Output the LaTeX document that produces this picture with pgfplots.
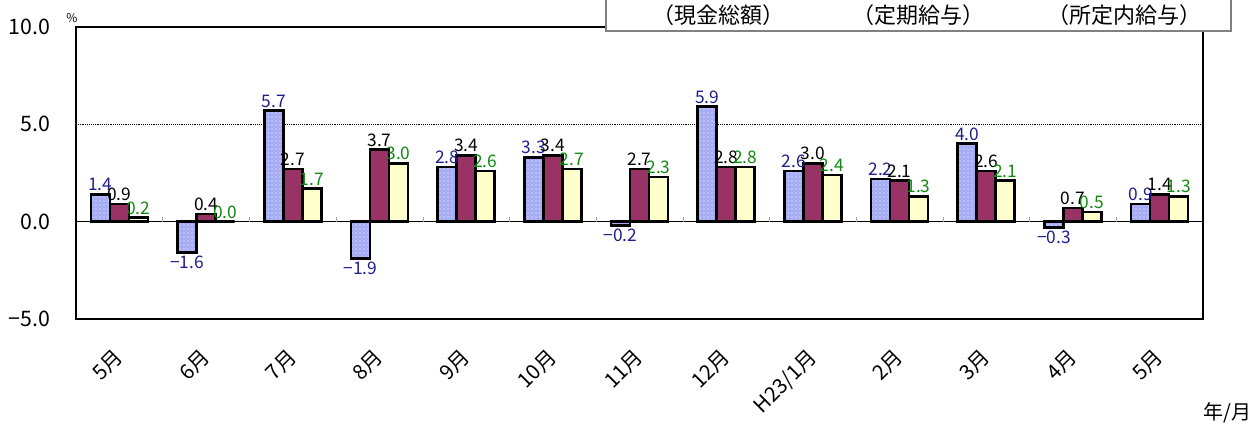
\documentclass[border=0pt]{standalone}
\usepackage{fontspec}
\setmainfont{Noto Sans CJK JP}
\usepackage{pgfplots}
\pgfplotsset{compat=1.18}
\usepackage{pgfplotstable}
\usetikzlibrary{patterns}
\definecolor{barblue}{HTML}{A6ADF5}
\definecolor{barpurple}{HTML}{993366}
\definecolor{baryellow}{HTML}{FFFFCC}
\definecolor{lblblue}{HTML}{1F1F8C}
\definecolor{lblgreen}{HTML}{118811}

\pgfplotstableread{
x    a    la    b   lb   c   lc
0.5  1.4  1.4   0.9 0.9  0.2 0.2
1.5  -1.6 −1.6  0.4 0.4  0.0 0.0
2.5  5.7  5.7   2.7 2.7  1.7 1.7
3.5  -1.9 −1.9  3.7 3.7  3.0 3.0
4.5  2.8  2.8   3.4 3.4  2.6 2.6
5.5  3.3  3.3   3.4 3.4  2.7 2.7
6.5  -0.2 −0.2  2.7 2.7  2.3 2.3
7.5  5.9  5.9   2.8 2.8  2.8 2.8
8.5  2.6  2.6   3.0 3.0  2.4 2.4
9.5  2.2  2.2   2.1 2.1  1.3 1.3
10.5 4.0  4.0   2.6 2.6  2.1 2.1
11.5 -0.3 −0.3  0.7 0.7  0.5 0.5
12.5 0.9  0.9   1.4 1.4  1.3 1.3
}\datatable

\begin{document}
\begin{tikzpicture}
\useasboundingbox (0,0) rectangle (943.5pt,321.75pt);
\clip (0,0) rectangle (943.5pt,321.75pt);
\begin{axis}[
  at={(57pt,82.5pt)}, anchor=south west,
  scale only axis,
  width=845.25pt, height=219pt,
  ybar, bar width=14.25pt,
  xmin=0, xmax=13,
  ymin=-5, ymax=10,
  xtick={0.5,1.5,...,12.5},
  xticklabels={5月,6月,7月,8月,9月,10月,11月,12月,H23/1月,2月,3月,4月,5月},
  ytick={-5,0,5,10},
  yticklabels={−5.0,0.0,5.0,10.0},
  major tick length=0pt,
  axis line style={line width=1.5pt},
  ymajorgrids,
  grid style={black, densely dotted, line width=0.4pt},
  extra y ticks={0},
  extra y tick labels={},
  extra y tick style={grid style={solid, black, line width=0.8pt}},
  yticklabel style={font=\fontsize{16}{18}\selectfont, xshift=-16pt},
  xticklabel style={font=\fontsize{15.5}{18}\selectfont, rotate=45, anchor=north east, xshift=-15pt, yshift=-8pt},
  clip=false,
  visualization depends on={y \as \rawy},
  every node near coord/.append style={font=\fontsize{13}{15}\selectfont, inner sep=1.5pt,
    /utils/exec={\ifdim\rawy pt<0pt\def\myanch{north}\else\def\myanch{south}\fi},
    anchor=\myanch},
]
\addplot[ycomb, gray!70, thin, mark=none, forget plot] coordinates {(1,0.25) (2,0.25) (3,0.25) (4,0.25) (5,0.25) (6,0.25) (7,0.25) (8,0.25) (9,0.25) (10,0.25) (11,0.25) (12,0.25)};
\addplot[bar shift=-14.25pt, draw=black, line width=2pt, fill=barblue,
  postaction={pattern=dots, pattern color=white},
  point meta=explicit symbolic, nodes near coords,
  every node near coord/.append style={text=lblblue}]
  table[x=x, y=a, meta=la] {\datatable};
\addplot[bar shift=0pt, draw=black, line width=2pt, fill=barpurple,
  point meta=explicit symbolic, nodes near coords,
  every node near coord/.append style={text=black}]
  table[x=x, y=b, meta=lb] {\datatable};
\addplot[bar shift=14.25pt, draw=black, line width=2pt, fill=baryellow,
  point meta=explicit symbolic, nodes near coords,
  every node near coord/.append style={text=lblgreen}]
  table[x=x, y=c, meta=lc] {\datatable};
\node[font=\fontsize{9}{10}\selectfont, anchor=south, inner sep=0pt] at ([xshift=-3pt,yshift=3pt]rel axis cs:0,1) {\%};
\end{axis}
\draw[gray, line width=0.8pt, fill=white] (454.5pt,298.5pt) rectangle (923.25pt,340pt);
\node[font=\fontsize{16.5}{18}\selectfont] at (538.5pt,310.5pt) {（現金総額）};
\node[font=\fontsize{16.5}{18}\selectfont] at (688.5pt,310.5pt) {（定期給与）};
\node[font=\fontsize{16.5}{18}\selectfont] at (843pt,310.5pt) {（所定内給与）};
\node[font=\fontsize{15}{16}\selectfont, anchor=east, inner sep=0pt] at (939pt,12pt) {年/月};
\end{tikzpicture}
\end{document}
